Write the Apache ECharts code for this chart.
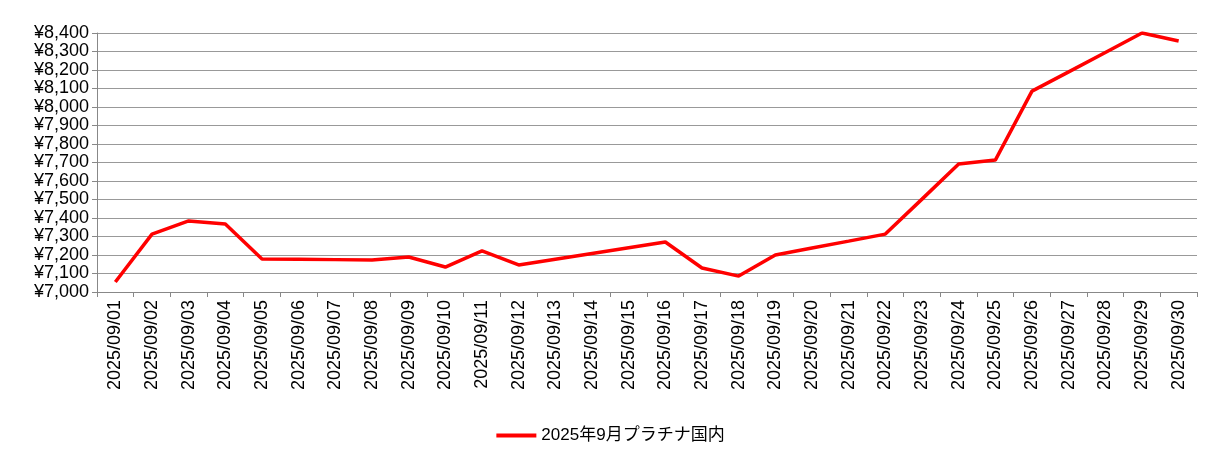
<!DOCTYPE html>
<html>
<head>
<meta charset="utf-8">
<script src="https://cdn.jsdelivr.net/npm/echarts@6/dist/echarts.min.js"></script>
<style>html,body{margin:0;padding:0;background:#fff}#main{width:1221px;height:471px}</style>
</head>
<body>
<div id="main"></div>
<script>
// 日付
var dates = ['2025/09/01','2025/09/02','2025/09/03','2025/09/04','2025/09/05','2025/09/06','2025/09/07','2025/09/08','2025/09/09','2025/09/10',
    '2025/09/11','2025/09/12','2025/09/13','2025/09/14','2025/09/15','2025/09/16','2025/09/17','2025/09/18','2025/09/19','2025/09/20',
    '2025/09/21','2025/09/22','2025/09/23','2025/09/24','2025/09/25','2025/09/26','2025/09/27','2025/09/28','2025/09/29','2025/09/30'];
// 価格
var prices = [7054,7313,7384,7368,7178,7177,7175,7173,7189,7135,
    7222,7146,7177,7208,7239,7270,7130,7086,7200,7238,
    7275,7313,7502,7692,7713,8086,8190,8295,8400,8357];
var seriesName = '2025年9月プラチナ国内';

var chart = echarts.init(document.getElementById('main'));
var font = 'Liberation Sans, Noto Sans CJK JP, sans-serif';
var option = {
    animation: false,
    textStyle: {fontFamily: font},
    legend: {
        bottom: 22,
        itemWidth: 40,
        itemHeight: 4,
        icon: 'rect',
        textStyle: {fontSize: 17, color: '#000', fontFamily: font},
        data: [seriesName]
    },
    grid: {left: 97, right: 24, top: 33, bottom: 179, containLabel: false},
    xAxis: {
        type: 'category',
        data: dates,
        boundaryGap: true,
        axisLine: {lineStyle: {color: '#888'}},
        axisTick: {show: true, interval: 0, length: 5, lineStyle: {color: '#888'}},
        axisLabel: {rotate: 90, interval: 0, fontSize: 18, color: '#000', margin: 8}
    },
    yAxis: {
        type: 'value',
        min: 7000,
        max: 8400,
        interval: 100,
        axisLine: {show: true, lineStyle: {color: '#888'}},
        axisTick: {show: true, length: 5, lineStyle: {color: '#888'}},
        splitLine: {lineStyle: {color: '#999'}},
        axisLabel: {
            fontSize: 18, color: '#000', margin: 8,
            formatter: function (v) { return '¥' + v.toLocaleString('en-US'); }
        }
    },
    series: [{
        name: seriesName,
        type: 'line',
        data: prices,
        symbol: 'none',
        itemStyle: {color: '#ff0000'},
        lineStyle: {color: '#ff0000', width: 3.5}
    }]
};
chart.setOption(option);
</script>
</body>
</html>
